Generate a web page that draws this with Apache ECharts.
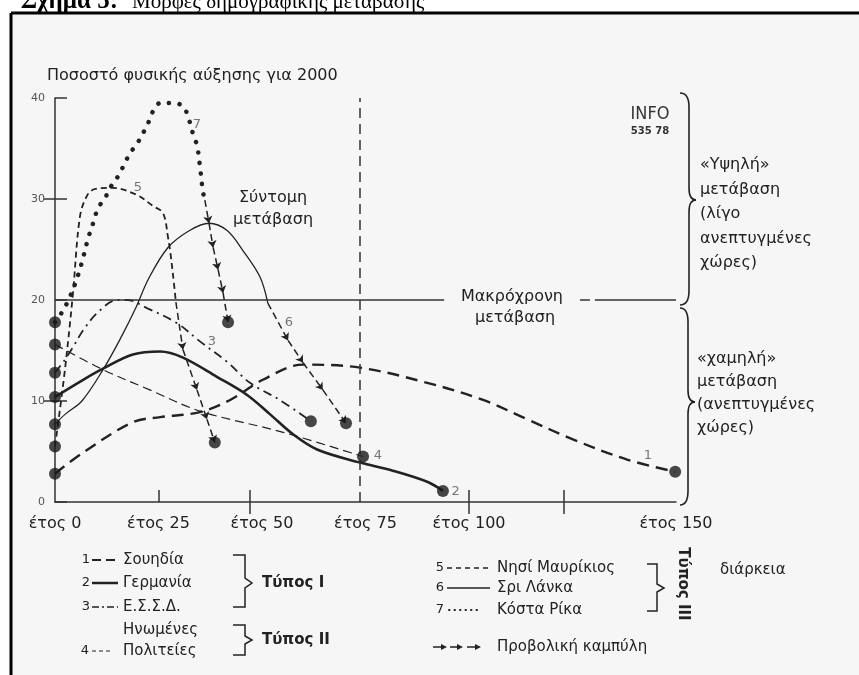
<!DOCTYPE html>
<html><head><meta charset="utf-8">
<script src="https://cdn.jsdelivr.net/npm/echarts@6/dist/echarts.min.js"></script>
<style>html,body{margin:0;padding:0;background:#fff}#c{width:859px;height:675px}</style>
</head><body><div id="c"></div>
<script>
// ---- data (year, natural growth rate %) ----
const curve1 = [[0,2.8],[6.8,4.9],[18.8,7.9],[25.4,8.4],[35,8.9],[42.3,10.1],[50.2,12.1],[59.9,13.6],[73.7,13.3],[89.9,11.8],[103.4,10.1],[114,8.2],[125.1,6.2],[138.2,4.2],[149.8,3.0]];
const curve2 = [[0,10.4],[6.8,12.1],[11.6,13.2],[18.8,14.6],[25.4,14.9],[30.9,14.3],[39.1,12.4],[46.4,10.6],[51.9,8.7],[57.5,6.7],[63.3,5.2],[73.7,3.9],[81.6,3.1],[89.9,2.0],[93.7,1.1]];
const curve3 = [[0,12.8],[2.4,14.1],[4.3,15.3],[6.8,17.0],[10.4,18.8],[15,20],[17.4,20],[22.2,19.2],[29.5,17.7],[35,15.9],[41.5,13.9],[47.1,11.8],[54.3,10.1],[61.8,8.0]];
const curve4 = [[0,15.6],[11.6,13.1],[22.9,11.1],[35,9.0],[55.1,6.9],[74.4,4.5]];
const curve5 = [[0,5.5],[2.4,13.1],[4.3,20.5],[6.0,28.2],[7.7,30.3],[9.7,31.0],[13.8,31.1],[19.8,30.4],[23.7,29.3],[26.1,28.6],[27.3,26.2],[27.8,24.9],[28.5,22.5],[29.2,19.8]];
const proj5  = [[29.2,19.8],[30.9,15.1],[34.3,11.1],[36.7,8.2],[38.6,5.9]];
const curve6 = [[0,7.7],[2.5,8.7],[6.5,10.0],[11.6,13.1],[15.7,16.1],[19.5,19.2],[22.6,22.1],[27.3,25.2],[32.6,26.9],[37.2,27.6],[41.5,26.9],[45.4,24.9],[49.5,22.3],[51.4,19.7]];
const proj6  = [[51.4,19.7],[56.3,16.0],[59.9,13.8],[64.7,11.1],[70.3,7.8]];
const curve7 = [[0,17.8],[1.7,18.8],[3.6,20.3],[5.6,22.5],[6.8,24.2],[8.0,26.1],[9.2,27.6],[10.4,29.1],[12.1,30.1],[13.3,31.1],[15.0,32.1],[16.2,33.0],[17.4,34.0],[18.6,34.8],[20.0,35.6],[21.5,36.7],[22.7,37.7],[23.7,38.7],[25.4,39.5],[28.3,39.5],[30.9,39.2],[32.1,38.2],[33.3,36.5],[34.3,35.3],[35.0,33.3],[35.7,30.8],[36.2,29.9]];
const proj7  = [[36.2,29.9],[37.2,27.6],[38.2,25.2],[39.4,23.0],[40.6,20.7],[41.8,17.8]];
const curveNumbers = [[143.2,4.6,'1'],[96.8,1.0,'2'],[37.9,15.9,'3'],[78.0,4.6,'4'],[20.0,31.1,'5'],[56.5,17.8,'6'],[34.3,37.4,'7']];
const xLabelYears = [0,25,50,75,100,150];
const xTickYears = [25,47,100,123];
const xTopTickYears = [47,100,123];
const longTermLevel = 20;
const shortLimitYear = 73.5;

const FONT = '"DejaVu Sans", sans-serif';
const INK = '#222';
const chart = echarts.init(document.getElementById('c'), null, {renderer:'canvas'});

function segs(p){ const out=[]; for(let i=0;i<p.length-1;i++) out.push({coords:[p[i],p[i+1]]}); return out; }
function lineSeries(data, ls){ return {type:'line', data, smooth:0.35, symbol:'none', silent:true, z:3, lineStyle:Object.assign({color:INK}, ls)}; }
function projSeries(p){ return {type:'lines', coordinateSystem:'cartesian2d', data:segs(p), symbol:['none','arrow'], symbolSize:7, silent:true, z:3, lineStyle:{color:INK, width:1.5, type:[7,4], opacity:1}}; }

const dots = [curve1,curve2,curve3,curve4,curve5,curve6,curve7].map(c=>c[0])
  .concat([curve1,curve2,curve3,curve4,proj5,proj6,proj7].map(c=>c[c.length-1]));

// ---- graphic helpers (decoration / legend) ----
const G = [];
function txt(x,y,t,o){ G.push({type:'text', x, y, silent:true, z:10, style:Object.assign({text:t, font:'16px '+FONT, fill:INK, textAlign:'left', textVerticalAlign:'middle'}, o||{})}); }
function ln(x1,y1,x2,y2,o){ G.push({type:'line', silent:true, z:10, shape:{x1,y1,x2,y2}, style:Object.assign({stroke:INK, lineWidth:1.5}, o||{})}); }
function pl(points,o){ G.push({type:'polyline', silent:true, z:10, shape:{points}, style:Object.assign({stroke:INK, lineWidth:1.5, fill:null}, o||{})}); }
function bz(x1,y1,cx,cy,x2,y2){ G.push({type:'bezierCurve', silent:true, z:10, shape:{x1,y1,cpx1:cx,cpy1:cy,x2,y2}, style:{stroke:INK, lineWidth:1.6, fill:null}}); }
function brace(x0,xm,xc,yTop,yMid,yBot){
  bz(x0,yTop,xm,yTop,xm,yTop+14); ln(xm,yTop+14,xm,yMid-12,{lineWidth:1.6});
  bz(xm,yMid-12,xm,yMid,xc,yMid); bz(xc,yMid,xm,yMid,xm,yMid+12);
  ln(xm,yMid+12,xm,yBot-14,{lineWidth:1.6}); bz(xm,yBot-14,xm,yBot,x0,yBot);
}
function arrowDash(x1,x2,y){ ln(x1,y,x2-4,y,{lineWidth:1.5}); G.push({type:'polygon', silent:true, z:10, shape:{points:[[x2,y],[x2-6,y-3],[x2-6,y+3]]}, style:{fill:INK}}); }

// page frame
G.push({type:'rect', silent:true, z:0, shape:{x:11,y:13,width:860,height:680}, style:{fill:'#f6f6f6'}});
ln(11,13,859,13,{lineWidth:3,stroke:'#000'});
ln(11,13,11,675,{lineWidth:3,stroke:'#000'});
// caption (cut at top)
txt(118,2,'Σχήμα 5:',{font:'bold 25px "Liberation Serif", serif', fill:'#000', textAlign:'right'});
txt(132,2,'Μορφές δημογραφικής μετάβασης',{font:'21px "Liberation Serif", serif', fill:'#000'});
// chart title
txt(47,76,'Ποσοστό φυσικής αύξησης για 2000');
// annotations
txt(273,198,'Σύντομη',{textAlign:'center'});
txt(273,220,'μετάβαση',{textAlign:'center'});
txt(512,297,'Μακρόχρονη',{textAlign:'center'});
txt(515,318,'μετάβαση',{textAlign:'center'});
txt(650,114,'INFO',{font:'18px "Liberation Sans Narrow", "DejaVu Sans Condensed", sans-serif', textAlign:'center', fill:'#333'});
txt(650,131,'535 78',{font:'bold 10px '+FONT, textAlign:'center', fill:'#333'});
// right braces + text
brace(680,689,696,93,200,305);
brace(680,688,695,308,402,505);
txt(700,153,'«Υψηλή»\nμετάβαση\n(λίγο\nανεπτυγμένες\nχώρες)',{textVerticalAlign:'top', lineHeight:24.5});
txt(697,347,'«χαμηλή»\nμετάβαση\n(ανεπτυγμένες\nχώρες)',{textVerticalAlign:'top', lineHeight:23});
// legend left
const lf = {font:'15px '+FONT};
const nf = {font:'13px '+FONT, textAlign:'center'};
txt(86,560,'1',nf); ln(92,560,116,560,{lineWidth:2,lineDash:[9,5]}); txt(123,560,'Σουηδία',lf);
txt(86,583,'2',nf); ln(92,583,118,583,{lineWidth:2.5}); txt(123,583,'Γερμανία',lf);
txt(86,607,'3',nf); ln(92,607,118,607,{lineWidth:1.5,lineDash:[7,3,2,3]}); txt(123,607,'Ε.Σ.Σ.Δ.',lf);
txt(123,630,'Ηνωμένες',lf);
txt(85,651,'4',nf); ln(92,651,112,651,{lineWidth:1.2,lineDash:[4,3]}); txt(123,651,'Πολιτείες',lf);
pl([[233,555],[245,555],[245,578],[252,583],[245,588],[245,607],[233,607]]);
txt(262,583,'Τύπος I',{font:'bold 15px '+FONT});
pl([[233,625],[245,625],[245,636],[252,640],[245,644],[245,655],[233,655]]);
txt(262,640,'Τύπος II',{font:'bold 15px '+FONT});
// legend right
txt(440,568,'5',nf); ln(447,568,490,568,{lineWidth:1.5,lineDash:[5,4]}); txt(497,568,'Νησί Μαυρίκιος',lf);
txt(440,588,'6',nf); ln(447,588,490,588,{lineWidth:1.5}); txt(497,588,'Σρι Λάνκα',lf);
txt(440,610,'7',nf); ln(449,610,480,610,{lineWidth:2,lineDash:[0.5,5],lineCap:'round'}); txt(497,610,'Κόστα Ρίκα',lf);
pl([[647,564],[657,564],[657,584],[664,588],[657,592],[657,611],[647,611]]);
G.push({type:'text', x:683, y:584, rotation:-Math.PI/2, silent:true, z:10, style:{text:'Τύπος III', font:'bold 15px '+FONT, fill:INK, textAlign:'center', textVerticalAlign:'middle'}});
txt(720,570,'διάρκεια',lf);
arrowDash(433,447,647); arrowDash(450,463,647); arrowDash(467,481,647);
txt(497,647,'Προβολική καμπύλη',lf);

const option = {
  backgroundColor:'transparent',
  animation:false,
  grid:{left:55, right:183, top:98, bottom:173, show:true, borderColor:'#333', borderWidth:1.5, backgroundColor:'transparent'},
  xAxis:[
    {type:'value', min:0, max:150, position:'bottom',
     axisLine:{show:true, lineStyle:{color:'#333', width:1.5}},
     axisTick:{show:true, inside:true, length:12, customValues:xTickYears, lineStyle:{color:'#333', width:1.5}},
     axisLabel:{show:true, customValues:xLabelYears, formatter:v=>'έτος '+v, margin:14, fontSize:16, fontFamily:FONT, color:INK},
     splitLine:{show:false}},
    {type:'value', min:0, max:150, position:'top',
     axisLine:{show:false},
     axisTick:{show:true, inside:true, length:12, customValues:xTopTickYears, lineStyle:{color:'#333', width:1.5}},
     axisLabel:{show:false}, splitLine:{show:false}}
  ],
  yAxis:[
    {type:'value', min:0, max:40, interval:10, position:'left',
     axisLine:{show:true, lineStyle:{color:'#333', width:1.5}},
     axisTick:{show:true, inside:true, length:12, lineStyle:{color:'#333', width:1.5}},
     axisLabel:{fontSize:11, fontFamily:FONT, color:'#555', margin:10},
     splitLine:{show:false}},
    {type:'value', min:0, max:40, position:'right',
     axisLine:{show:false},
     axisTick:{show:true, inside:true, length:11, customValues:[10,30], lineStyle:{color:'#333', width:1.5}},
     axisLabel:{show:false}, splitLine:{show:false}}
  ],
  series:[
    lineSeries(curve1,{width:2.4, type:[12,7]}),
    lineSeries(curve2,{width:2.6}),
    lineSeries(curve3,{width:1.8, type:[9,5,2,5]}),
    lineSeries(curve4,{width:1.2, type:[9,5]}),
    lineSeries(curve5,{width:1.8, type:[6,4]}),
    lineSeries(curve6,{width:1.3}),
    lineSeries(curve7,{width:4.5, type:[0.1,10.5], cap:'round'}),
    projSeries(proj5), projSeries(proj6), projSeries(proj7),
    {type:'scatter', data:dots, symbol:'circle', symbolSize:12, silent:true, z:5, itemStyle:{color:'#1a1a1a'},
     markLine:{silent:true, symbol:'none', label:{show:false}, lineStyle:{color:'#333', width:1.5, type:'solid'},
       data:[
         [{coord:[0,longTermLevel]},{coord:[94,longTermLevel]}],
         [{coord:[126.8,longTermLevel]},{coord:[129.2,longTermLevel]}],
         [{coord:[130.4,longTermLevel]},{coord:[150,longTermLevel]}],
         [{coord:[shortLimitYear,0], lineStyle:{type:[10,6], width:1.5}},{coord:[shortLimitYear,40]}]
       ]}},
    {type:'scatter', data:curveNumbers.map(d=>({value:[d[0],d[1]], name:d[2]})), symbolSize:0, silent:true, z:6,
     label:{show:true, position:'inside', formatter:p=>p.name, fontSize:13, fontFamily:FONT, color:'#555'}}
  ],
  graphic:G
};
chart.setOption(option);
</script></body></html>
